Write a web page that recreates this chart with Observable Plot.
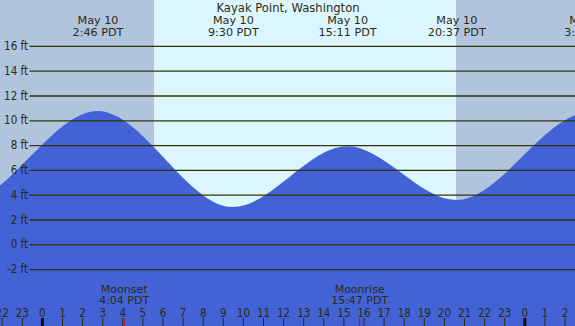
<!DOCTYPE html>
<html>
<head>
<meta charset="utf-8">
<script src="https://cdn.jsdelivr.net/npm/d3@7"></script>
<script src="https://cdn.jsdelivr.net/npm/@observablehq/plot@0.6"></script>
<style>
  html, body { margin: 0; padding: 0; background: #B0C4DE; overflow: hidden; }
</style>
</head>
<body>
<div id="chart"></div>
<script>
// ---- data (hours relative to midnight, May 10 PDT) ----
const title = "Kayak Point, Washington";
// tide extremes (first and last lie outside the visible window)
const tideHours = [-10.1, -3.9, 2.767, 9.5, 15.183, 20.617, 27.233, 33.9];
const tideFeet = [8.2, 3.4, 10.75, 3.0, 7.9, 3.57, 10.63, 2.8];
const tideLabels = ["", "", "May 10\n2:46 PDT", "May 10\n9:30 PDT", "May 10\n15:11 PDT", "May 10\n20:37 PDT", "May 11\n3:14 PDT", ""];
const sunriseHour = 5.58;
const sunsetHour = 20.6;
const moonHours = [4.067, 15.783];
const moonLabels = ["Moonset\n4:04 PDT", "Moonrise\n15:47 PDT"];
const feetTicks = [-2, 0, 2, 4, 6, 8, 10, 12, 14, 16];
const hourTicks = [-2, -1, 0, 1, 2, 3, 4, 5, 6, 7, 8, 9, 10, 11, 12, 13, 14, 15, 16, 17, 18, 19, 20, 21, 22, 23, 24, 25, 26];
const midnightTicks = [0, 24];

// ---- tables built from the arrays ----
const tide = tideHours.map((h, i) => ({hour: h, ft: tideFeet[i], label: tideLabels[i]}));
const moon = moonHours.map((h, i) => ({hour: h, label: moonLabels[i]}));
const day = [{start: sunriseHour, end: sunsetHour}];

const xDomain = [-2.0846, 26.522];
const yDomain = [-6.59, 19.70];
const ink = "#2c2c12";
const grid = "#333300";
const condensed = "DejaVu Sans Condensed, DejaVu Sans";

const chart = Plot.plot({
  width: 575,
  height: 326,
  margin: 0,
  x: {domain: xDomain, range: [0, 575]},
  y: {domain: yDomain, range: [326, 0]},
  style: {background: "#B0C4DE", fontFamily: "DejaVu Sans", color: ink},
  marks: [
    Plot.rect(day, {x1: "start", x2: "end", y1: yDomain[0], y2: yDomain[1], fill: "#DCF6FF"}),
    Plot.areaY(tide, {x: "hour", y1: yDomain[0], y2: "ft", curve: "monotone-x", fill: "#4262D6", clip: true}),
    Plot.ruleY(feetTicks, {stroke: grid, strokeWidth: 1.3, insetLeft: 29.5}),
    Plot.axisY(feetTicks, {anchor: "left", label: null, tickSize: 0, tickPadding: 0, dx: 27.5,
      tickFormat: d => `${d} ft`, fontSize: 11.5, fontFamily: condensed, fill: ink}),
    Plot.tickX(hourTicks, {x: d => d, stroke: ink, strokeWidth: 1, insetTop: 318}),
    Plot.tickX(midnightTicks, {x: d => d, stroke: "#111", strokeWidth: 3, insetTop: 318}),
    Plot.tickX(moonHours, {x: d => d, stroke: "#e00000", strokeWidth: 1, insetTop: 318}),
    Plot.text(hourTicks, {x: d => d, text: d => String(((d % 24) + 24) % 24), frameAnchor: "bottom",
      lineAnchor: "bottom", dy: -10, fontSize: 11.5, fontFamily: condensed, fill: ink}),
    Plot.text(moon, {x: "hour", text: "label", frameAnchor: "bottom", lineAnchor: "bottom",
      dy: -22.3, lineHeight: 1.05, fontSize: 11, fill: ink}),
    Plot.text(tide, {x: "hour", text: "label", frameAnchor: "top", lineAnchor: "bottom",
      dy: 35.6, lineHeight: 1.12, fontSize: 11.2, fill: ink}),
    Plot.text([title], {text: d => d, frameAnchor: "top", lineAnchor: "bottom", dy: 11.3, fontSize: 11.6, fill: ink})
  ]
});
document.getElementById("chart").appendChild(chart);
</script>
</body>
</html>
